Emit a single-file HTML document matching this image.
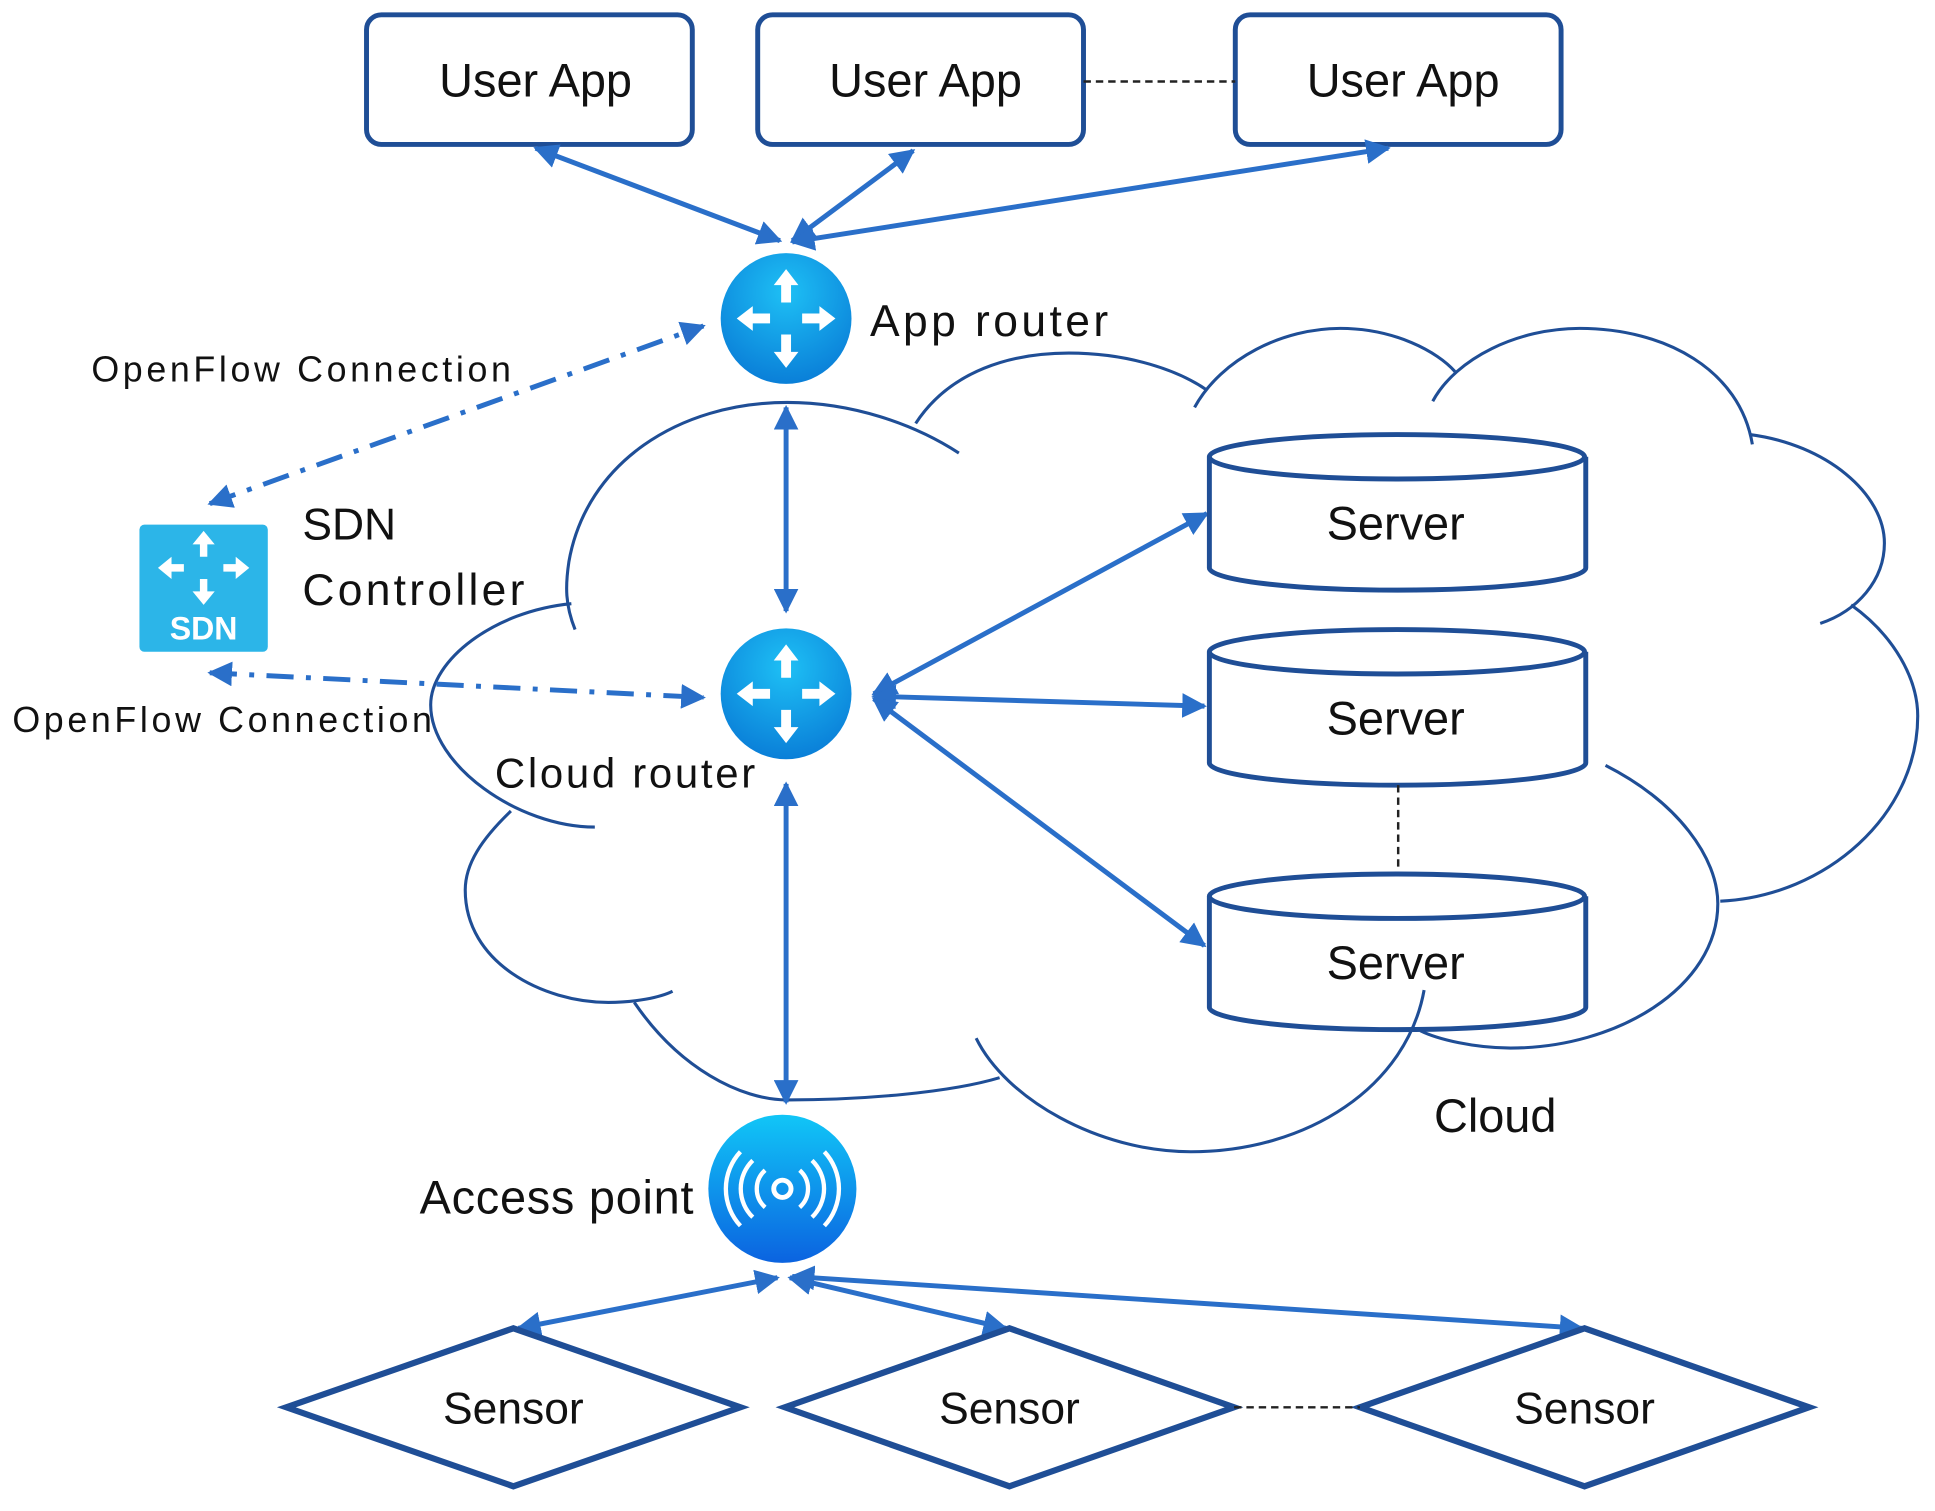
<!DOCTYPE html>
<html><head><meta charset="utf-8"><style>
html,body{margin:0;padding:0;background:#fff}
svg{display:block}
text{font-family:"Liberation Sans",sans-serif;fill:#111}
</style></head><body>
<svg width="1935" height="1511" viewBox="0 0 1568 1224" preserveAspectRatio="none" xmlns="http://www.w3.org/2000/svg">
<defs>
<marker id="a" viewBox="0 0 10 10" refX="9" refY="5" markerWidth="5" markerHeight="5" orient="auto-start-reverse"><path d="M0,0L10,5L0,10z" fill="#2a6fc9"/></marker>
<radialGradient id="g" cx="50%" cy="30%" r="70%"><stop offset="0" stop-color="#1ec0f5"/><stop offset="1" stop-color="#0a7fd8"/></radialGradient>
<linearGradient id="g2" x1="0" y1="0" x2="0" y2="1"><stop offset="0" stop-color="#11c6f7"/><stop offset="1" stop-color="#0b63e0"/></linearGradient>
</defs>
<!-- cloud -->
<g fill="none" stroke="#1f4e96" stroke-width="2.5">
<path d="M466,510 C458,490 458,475 461,455 C475,375 550,326 638,326 C690,326 740,343 777,367"/>
<path d="M742,343 C770,300 820,286 866,286 C915,286 955,300 978,316"/>
<path d="M968,330 C990,290 1040,266 1086,266 C1130,266 1165,285 1179,301"/>
<path d="M1161,325 C1180,290 1230,266 1280,266 C1350,266 1410,300 1420,360"/>
<path d="M1418,352 C1480,360 1527,400 1527,440 C1527,470 1505,495 1475,505"/>
<path d="M1500,490 C1535,515 1554,550 1554,580 C1554,660 1480,726 1394,730"/>
<path d="M1301,620 C1360,650 1392,695 1392,732 C1392,800 1310,849 1224,849 C1195,849 1165,842 1151,835"/>
<path d="M514,812 C550,865 600,891 638,891 C700,891 770,885 810,873"/>
<path d="M414,657 C390,680 377,700 377,721 C377,780 440,812 493,812 C515,812 535,808 545,803"/>
<path d="M463,489 C400,495 349,535 349,571 C349,620 420,670 482,670"/>
</g>
<!-- user apps -->
<g fill="#fff" stroke="#1f4e96" stroke-width="4">
<rect x="297" y="12" width="264" height="105" rx="12"/>
<rect x="614" y="12" width="264" height="105" rx="12"/>
<rect x="1001" y="12" width="264" height="105" rx="12"/>
</g>
<line x1="878" y1="66" x2="1001" y2="66" stroke="#222" stroke-width="2" stroke-dasharray="6,4"/>
<g font-size="38" text-anchor="middle">
<text x="434" y="78">User App</text><text x="750" y="78">User App</text><text x="1137" y="78">User App</text>
</g>
<!-- arrows -->
<g stroke="#2a6fc9" stroke-width="4" marker-start="url(#a)" marker-end="url(#a)" fill="none">
<line x1="434" y1="120" x2="632" y2="195"/>
<line x1="740" y1="122" x2="642" y2="195"/>
<line x1="1125" y1="120" x2="642" y2="196"/>
<line x1="637" y1="330" x2="637" y2="495"/>
<line x1="637" y1="635" x2="637" y2="893"/>
<line x1="708" y1="562" x2="978" y2="416"/>
<line x1="708" y1="564" x2="976" y2="572"/>
<line x1="708" y1="566" x2="976" y2="766"/>
<line x1="420" y1="1076" x2="630" y2="1035"/>
<line x1="640" y1="1035" x2="815" y2="1076"/>
<line x1="642" y1="1034" x2="1282" y2="1076"/>
</g>
<g stroke="#2a6fc9" stroke-width="4" stroke-dasharray="22,10,4,10" marker-start="url(#a)" marker-end="url(#a)" fill="none">
<line x1="170" y1="408" x2="570" y2="264"/>
<line x1="170" y1="545" x2="570" y2="565"/>
</g>
<!-- routers -->
<circle cx="637" cy="258" r="53" fill="url(#g)"/>
<circle cx="637" cy="562" r="53" fill="url(#g)"/>
<g fill="#fff">
<path d="M637,218 l-10,13 h6 v14 h8 v-14 h6z M637,298 l-10,-13 h6 v-14 h8 v14 h6z M597,258 l13,-10 v6 h14 v8 h-14 v6z M677,258 l-13,-10 v6 h-14 v8 h14 v6z"/>
<path transform="translate(0,304)" d="M637,218 l-10,13 h6 v14 h8 v-14 h6z M637,298 l-10,-13 h6 v-14 h8 v14 h6z M597,258 l13,-10 v6 h14 v8 h-14 v6z M677,258 l-13,-10 v6 h-14 v8 h14 v6z"/>
</g>
<text x="705" y="272" font-size="36" textLength="193">App router</text>
<text x="401" y="638" font-size="34" textLength="211">Cloud router</text>
<!-- SDN -->
<rect x="113" y="425" width="104" height="103" rx="4" fill="#2cb5e8"/>
<path fill="#fff" d="M165,430 l-9,11 h6 v10 h6 v-10 h6z M165,490 l-9,-11 h6 v-10 h6 v10 h6z M128,460 l11,-9 v6 h10 v6 h-10 v6z M202,460 l-11,-9 v6 h-10 v6 h10 v6z"/>
<text x="165" y="518" font-size="26" font-weight="bold" text-anchor="middle" style="fill:#fff">SDN</text>
<text x="245" y="437" font-size="36">SDN</text>
<text x="245" y="490" font-size="36" textLength="180">Controller</text>
<text x="74" y="309" font-size="29" textLength="340">OpenFlow Connection</text>
<text x="10" y="593" font-size="29" textLength="340">OpenFlow Connection</text>
<!-- servers -->
<g fill="#fff" stroke="#1f4e96" stroke-width="4">
<path d="M980,370 v90 a152,18 0 0 0 305,0 v-90"/><ellipse cx="1132" cy="370" rx="152" ry="18"/>
<path d="M980,528 v90 a152,18 0 0 0 305,0 v-90"/><ellipse cx="1132" cy="528" rx="152" ry="18"/>
<path d="M980,726 v90 a152,18 0 0 0 305,0 v-90"/><ellipse cx="1132" cy="726" rx="152" ry="18"/>
</g>
<path d="M1154,802 C1140,880 1060,933 965,933 C890,933 815,890 791,841" fill="none" stroke="#1f4e96" stroke-width="2.5"/>
<line x1="1133" y1="636" x2="1133" y2="706" stroke="#222" stroke-width="2" stroke-dasharray="6,4"/>
<g font-size="38" text-anchor="middle"><text x="1131" y="437">Server</text><text x="1131" y="595">Server</text><text x="1131" y="793">Server</text></g>
<text x="1162" y="917" font-size="38">Cloud</text>
<!-- access point -->
<circle cx="634" cy="963" r="60" fill="url(#g2)"/>
<circle cx="634" cy="963" r="7" fill="none" stroke="#fff" stroke-width="4"/>
<g fill="none" stroke="#fff" stroke-width="3.5">
<path d="M620,948 a20,20 0 0 0 0,30 M648,948 a20,20 0 0 1 0,30 M610,940 a32,32 0 0 0 0,46 M658,940 a32,32 0 0 1 0,46 M600,933 a44,44 0 0 0 0,60 M668,933 a44,44 0 0 1 0,60"/>
</g>
<text x="340" y="983" font-size="38" textLength="222">Access point</text>
<!-- sensors -->
<g fill="#fff" stroke="#1f4e96" stroke-width="5">
<path d="M232,1140 L416,1076 L600,1140 L416,1204z"/>
<path d="M636,1140 L818,1076 L1000,1140 L818,1204z"/>
<path d="M1102,1140 L1284,1076 L1466,1140 L1284,1204z"/>
</g>
<line x1="1000" y1="1140" x2="1102" y2="1140" stroke="#222" stroke-width="2" stroke-dasharray="6,4"/>
<g font-size="36" text-anchor="middle"><text x="416" y="1153">Sensor</text><text x="818" y="1153">Sensor</text><text x="1284" y="1153">Sensor</text></g>
</svg>
</body></html>
